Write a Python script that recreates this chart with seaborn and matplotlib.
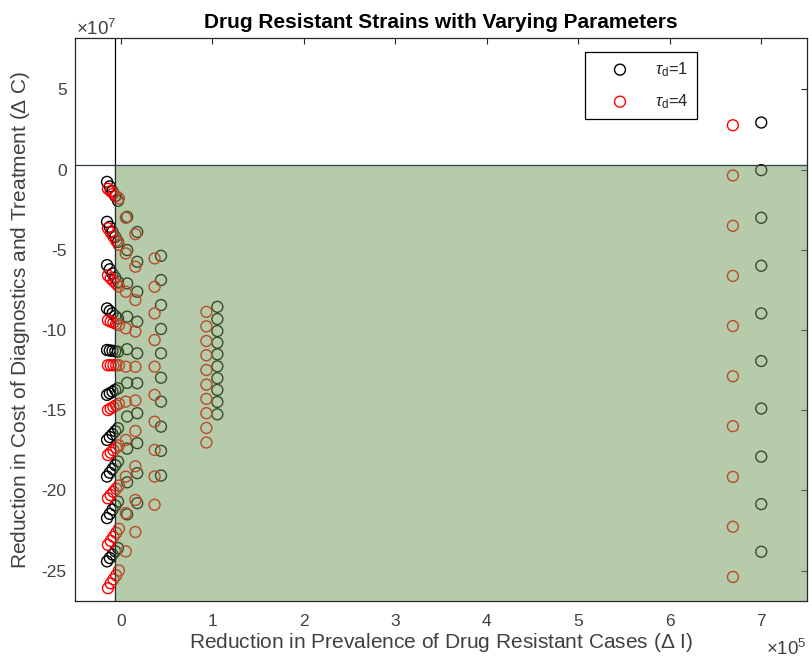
import numpy as np
import pandas as pd
import matplotlib
matplotlib.use("Agg")
import matplotlib.pyplot as plt
import seaborn as sns
from matplotlib.patches import Rectangle

# x in units of 1e5 cases, y in units of 1e7
TAUS = ["1", "4"]
CORES = {"1": "black", "4": "red"}

# left cluster (x < 0): 5 points per group, 10 groups
x_diag_t1 = [-0.15, -0.12, -0.09, -0.06, -0.03]
y_diag_t1 = [
    [-0.77, -1.05, -1.35, -1.65, -1.95],
    [-3.26, -3.57, -3.88, -4.20, -4.51],
    [-5.96, -6.22, -6.48, -6.74, -7.00],
    [-8.66, -8.82, -8.97, -9.13, -9.28],
    [-11.25, -11.28, -11.30, -11.33, -11.36],
    [-14.05, -13.95, -13.85, -13.74, -13.64],
    [-16.86, -16.68, -16.50, -16.31, -16.13],
    [-19.14, -18.90, -18.67, -18.43, -18.20],
    [-21.73, -21.47, -21.20, -20.95, -20.70],
    [-24.43, -24.22, -24.00, -23.80, -23.60],
]
x_diag_t4 = [-0.14, -0.11, -0.08, -0.05, -0.02]
y_diag_t4 = [
    [-1.20, -1.35, -1.50, -1.65, -1.80],
    [-3.66, -3.92, -4.18, -4.44, -4.70],
    [-6.60, -6.78, -6.95, -7.12, -7.30],
    [-9.40, -9.48, -9.55, -9.62, -9.70],
    [-12.20, -12.20, -12.20, -12.20, -12.20],
    [-15.00, -14.90, -14.80, -14.70, -14.60],
    [-17.80, -17.65, -17.50, -17.35, -17.20],
    [-20.50, -20.30, -20.10, -19.90, -19.70],
    [-23.40, -23.15, -22.90, -22.65, -22.40],
    [-26.10, -25.80, -25.55, -25.30, -25.00],
]

# vertical columns: 10 points each
x_col_t1 = [0.07, 0.18, 0.44, 1.056, 7.0]
y_col_t1 = [
    [-2.95, -5.02, -7.10, -9.17, -11.20, -13.30, -15.40, -17.40, -19.50, -21.50],
    [-3.89, -5.75, -7.62, -9.49, -11.46, -13.32, -15.19, -17.06, -18.93, -20.80],
    [-5.38, -6.89, -8.45, -9.94, -11.46, -12.98, -14.47, -16.03, -17.54, -19.08],
    [-8.56, -9.32, -10.07, -10.80, -11.52, -12.27, -13.01, -13.74, -14.49, -15.26],
    [2.93, -0.04, -3.01, -6.00, -8.97, -11.94, -14.90, -17.90, -20.86, -23.83],
]
x_col_t4 = [0.055, 0.16, 0.37, 0.936, 6.69]
y_col_t4 = [
    [-3.01, -5.23, -7.62, -9.90, -12.29, -14.47, -16.86, -19.14, -21.42, -23.81],
    [-4.03, -6.06, -8.14, -10.10, -12.30, -14.40, -16.30, -18.50, -20.60, -22.60],
    [-5.54, -7.31, -8.97, -10.63, -12.29, -14.05, -15.72, -17.48, -19.14, -20.90],
    [-8.87, -9.78, -10.69, -11.58, -12.50, -13.41, -14.30, -15.19, -16.11, -17.02],
    [2.76, -0.37, -3.51, -6.63, -9.76, -12.89, -16.00, -19.16, -22.27, -25.40],
]

# shaded region (dI > 0, dC < 0 quadrant)
REGIAO_X0 = -0.058
REGIAO_Y0 = 0.31


def montar_df():
    linhas = []
    for tau, xd, yd, xc, yc in [("1", x_diag_t1, y_diag_t1, x_col_t1, y_col_t1),
                                ("4", x_diag_t4, y_diag_t4, x_col_t4, y_col_t4)]:
        for grupo in yd:
            for xv, yv in zip(xd, grupo):
                linhas.append((xv, yv, tau))
        for xv, col in zip(xc, yc):
            for yv in col:
                linhas.append((xv, yv, tau))
    return pd.DataFrame(linhas, columns=["dI", "dC", "tau"])


df = montar_df()

sns.set_theme(style="white")
plt.rcParams["font.family"] = ["Liberation Sans", "DejaVu Sans"]
plt.rcParams["mathtext.fontset"] = "custom"
plt.rcParams["mathtext.rm"] = "Liberation Sans"
plt.rcParams["mathtext.it"] = "Liberation Sans:italic"
plt.rcParams["axes.unicode_minus"] = False

fig = plt.figure(figsize=(8.09, 6.61), dpi=100)
ax = fig.add_axes([75 / 809, 1 - 601 / 661, 732 / 809, 563 / 661])

for tau in TAUS:
    sub = df[df["tau"] == tau]
    sns.scatterplot(data=sub, x="dI", y="dC", ax=ax, color=CORES[tau],
                    facecolors="none", edgecolor=CORES[tau], s=62, linewidth=1.0,
                    label=r"$\tau_{\rm d}$=" + tau, zorder=2)

ax.set_xlim(-0.5, 7.5)
ax.set_ylim(-26.9, 8.2)

ax.axvline(REGIAO_X0, color="black", lw=0.9, zorder=1)
ax.axhline(REGIAO_Y0, color="#2e3d4c", lw=0.9, zorder=1)
ax.add_patch(Rectangle((REGIAO_X0, -30), 10, REGIAO_Y0 + 30, facecolor="#6f9857",
                       edgecolor="#1e3a52", lw=0.8, alpha=0.5, zorder=3))

ax.set_xticks(range(0, 8))
ax.set_yticks([-25, -20, -15, -10, -5, 0, 5])
ax.tick_params(direction="in", top=True, right=True, length=4, width=0.8,
               color="#262626", labelcolor="#404040", labelsize=12.5)
ax.tick_params(axis="x", pad=9)
ax.tick_params(axis="y", pad=6)
for sp in ax.spines.values():
    sp.set_color("#262626")
    sp.set_linewidth(0.9)

ax.set_title("Drug Resistant Strains with Varying Parameters", fontsize=15,
             fontweight="bold", color="black", pad=7)
ax.set_xlabel(r"Reduction in Prevalence of Drug Resistant Cases ($\Delta$ I)",
              fontsize=15, color="#404040", labelpad=2)
ax.set_ylabel(r"Reduction in Cost of Diagnostics and Treatment ($\Delta$ C)",
              fontsize=15, color="#404040", labelpad=7)

fig.text(76 / 809, 1 - 35 / 661, r"×10$^{7}$", fontsize=13.5, color="#404040",
         ha="left", va="baseline")
fig.text(807 / 809, 2 / 661, r"×10$^{5}$", fontsize=13.5, color="#404040",
         ha="right", va="bottom")

leg = ax.legend(loc="upper left", bbox_to_anchor=(0.6967, 0.9757), borderaxespad=0,
                fontsize=12, frameon=True, fancybox=False, framealpha=1,
                edgecolor="black", handlelength=3.2, handletextpad=0.5,
                labelspacing=0.8, borderpad=0.5, scatterpoints=1)
leg.get_frame().set_linewidth(0.9)
leg.set_zorder(5)

fig.savefig("out.png", dpi=100)
